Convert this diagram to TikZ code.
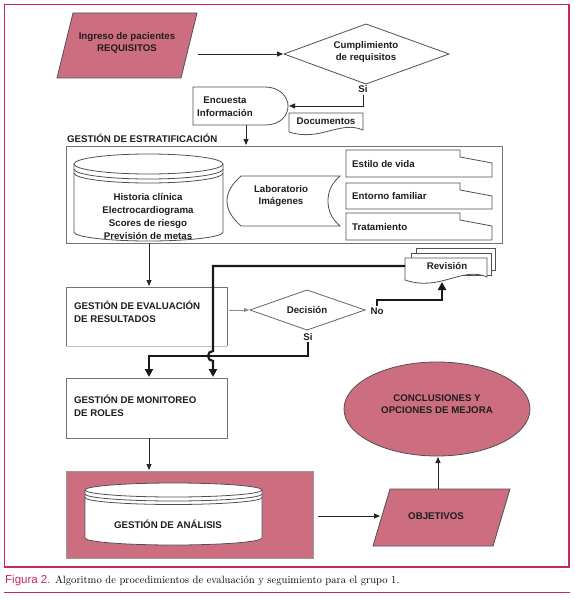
\documentclass[tikz,border=0pt]{standalone}
\usepackage{fontspec}
\newfontfamily\arial{Liberation Sans}
\usetikzlibrary{arrows.meta}
\definecolor{pinkf}{RGB}{205,110,128}
\definecolor{framec}{RGB}{200,40,85}
\definecolor{txt}{RGB}{30,30,30}
\definecolor{shp}{RGB}{80,80,80}
\tikzset{
  lbl/.style={font=\arial\bfseries\fontsize{9.7}{12.5}\selectfont, text=txt, inner sep=0pt, align=center},
  lbll/.style={lbl, align=left, anchor=west},
  outl/.style={draw=shp, line width=0.8pt},
  boxl/.style={draw=black!55, line width=0.8pt},
  arr/.style={draw=black!85, line width=0.9pt, -{Triangle[length=6pt,width=5pt]}},
  garr/.style={draw=black!45, line width=0.8pt, -{Triangle[length=5pt,width=4pt]}},
  tarr/.style={draw=black!90, line width=2.2pt, -{Triangle[length=8pt,width=8pt]}},
}
\begin{document}
\begin{tikzpicture}[x=1pt,y=-1pt]
\useasboundingbox (0,0) rectangle (574,599);
\fill[white] (0,0) rectangle (574,599);
% frame and caption
\draw[framec, line width=1.4pt] (4.5,4.5) rectangle (569,567);
\draw[framec, line width=1pt] (4,592.5) -- (570,592.5);
\node[anchor=base west, inner sep=0pt] (cap) at (5,583) {{\arial\fontsize{11.5}{13}\selectfont\color{framec}Figura 2.} {\fontsize{10.6}{12}\selectfont Algoritmo de procedimientos de evaluación y seguimiento para el grupo 1.}};

% Ingreso de pacientes (parallelogram)
\draw[outl, fill=pinkf] (73,13) -- (197,13) -- (181,78) -- (57,78) -- cycle;
\node[lbl] (p1) at (127,43) {Ingreso de pacientes\\REQUISITOS};
\coordinate (p1e) at (198,54);

% Cumplimiento diamond
\draw[outl] (284,54) -- (366,24) -- (449,54) -- (366,84) -- cycle;
\node[lbl] (d1) at (366,52) {Cumplimiento\\de requisitos};
\coordinate (d1w) at (283,54);
\node[lbl] (si1) at (363,89) {Si};

% Encuesta (delay shape)
\draw[outl] (193,87) -- (265,87) .. controls (280,87) and (288,97) .. (288,106) .. controls (288,116) and (280,125) .. (265,125) -- (193,125) -- cycle;
\node[lbl] (enc) at (225,106.5) {Encuesta\\Información};
\coordinate (ence) at (289,106);
\coordinate (encs) at (246,125);

% Documentos
\draw[outl, fill=white] (289,113) -- (363,113) -- (363,130) .. controls (340,120) and (320,142) .. (289,132) -- cycle;
\node[lbl] (doc) at (326,121) {Documentos};

% connectors top
\draw[arr] (p1e) -- (d1w);
\draw[arr] (si1.south) ++(0,2) -- (363,106) -- (ence);

% Gestion de estratificacion
\node[lbl, anchor=west] (estl) at (67,138) {GESTIÓN DE ESTRATIFICACIÓN};
\draw[boxl] (66,146) rectangle (502,243);
\coordinate (b1n) at (246,145);
\coordinate (b1s) at (149,243);
\draw[arr] (encs) -- (b1n);

% cylinder 1
\draw[outl, fill=white] (74,164) -- (74,232) arc[start angle=180, end angle=0, x radius=74.5, y radius=9] -- (223,164) arc[start angle=0, end angle=-180, x radius=74.5, y radius=10] -- cycle;
\draw[outl] (74,164) arc[start angle=180, end angle=0, x radius=74.5, y radius=10];
\draw[outl] (74,169) arc[start angle=180, end angle=0, x radius=74.5, y radius=10];
\draw[outl] (74,173) arc[start angle=180, end angle=0, x radius=74.5, y radius=10];
\node[lbl, align=center] (cyl1) at (148,216.5) {Historia clínica\\[0.3pt]Electrocardiograma\\[0.3pt]Scores de riesgo\\[0.3pt]Previsión de metas};

% Laboratorio (stored data)
\draw[outl] (241,176) -- (340,176) .. controls (331,184) and (328,192) .. (328,201) .. controls (328,210) and (331,218) .. (340,226) -- (241,226) .. controls (232,218) and (227,210) .. (227,201) .. controls (227,192) and (232,184) .. (241,176) -- cycle;
\node[lbl] (lab) at (281,196) {Laboratorio\\Imágenes};

% cards
\foreach \t/\b/\n in {150/177/c1, 183/209/c2, 213/240/c3}{
  \draw[outl] (460,\t) -- (346,\t) -- (346,\b) -- (492,\b) -- (492,\t+13) -- (460,\t+7) -- cycle;
}
\node[lbll] (est) at (352,164) {Estilo de vida};
\node[lbll] (ent) at (352,196) {Entorno familiar};
\node[lbll] (tra) at (352,227) {Tratamiento};

% Evaluacion box
\draw[boxl] (227,346) -- (227,287) -- (66,287) -- (66,346);
\draw[draw=black!25, line width=0.6pt] (66,346) -- (227,346);
\node[lbll] (b2) at (74,311.5) {GESTIÓN DE EVALUACIÓN\\DE RESULTADOS};
\coordinate (b2n) at (149,286);
\coordinate (b2e) at (229,310);
\draw[arr] (b1s) -- (b2n);

% Decision diamond
\draw[outl, draw=black!60] (250,310) -- (307,290) -- (365,310) -- (307,330) -- cycle;
\node[lbl] (dec) at (307,310) {Decisión};
\coordinate (d2w) at (249,310);
\draw[garr] (b2e) -- (d2w);
\node[lbl] (no) at (377,311) {No};
\node[lbl] (si2) at (308,337) {Si};

% Revision multi-document
\draw[outl, fill=white] (416,248) -- (495,248) -- (495,270) -- (416,270) -- cycle;
\draw[outl, fill=white] (411,253) -- (491,253) -- (491,275) -- (411,275) -- cycle;
\draw[outl, fill=white] (405,258) -- (487,258) -- (487,277) .. controls (462,266) and (440,292) .. (405,280) -- cycle;
\node[lbl] (rev) at (447,266) {Revisión};
\coordinate (revw) at (405,266);
\coordinate (revs) at (442,282);

% No -> Revision
\draw[tarr] (no.north) ++(0,-1) -- (377,300) -- (442,300) -- (revs);

% Monitoreo box
\draw[boxl] (66,378) rectangle (227,438);
\node[lbll] (b3) at (74,405.5) {GESTIÓN DE MONITOREO\\DE ROLES};
\coordinate (b3n1) at (149,377);
\coordinate (b3n2) at (213,377);
\coordinate (b3s) at (149,438);

% Revision -> Monitoreo (with bridge) and Si -> Monitoreo
\draw[tarr] (revw) -- (213,266) -- (213,351) arc[start angle=270, end angle=90, radius=5] -- (b3n2);
\draw[tarr] (si2.south) ++(0,1) -- (308,356) -- (149,356) -- (b3n1);

% Analisis
\draw[draw=black!40, line width=0.6pt, fill=pinkf] (66,471) rectangle (313,558);
\coordinate (rn) at (149,470);
\coordinate (re) at (318,516);
\draw[arr] (b3s) -- (rn);
\draw[outl, fill=white] (85,490) -- (85,538) arc[start angle=180, end angle=0, x radius=88.5, y radius=7] -- (262,490) arc[start angle=0, end angle=-180, x radius=88.5, y radius=7] -- cycle;
\draw[outl] (85,490) arc[start angle=180, end angle=0, x radius=88.5, y radius=7];
\draw[outl] (85,494) arc[start angle=180, end angle=0, x radius=88.5, y radius=7];
\draw[outl] (85,497.5) arc[start angle=180, end angle=0, x radius=88.5, y radius=7];
\node[lbl] (an) at (168,524) {GESTIÓN DE ANÁLISIS};

% Objetivos
\draw[outl, fill=pinkf] (390,489) -- (510,489) -- (493,546) -- (373,546) -- cycle;
\node[lbl] (obj) at (436,516) {OBJETIVOS};
\coordinate (objw) at (380,516);
\coordinate (objn) at (438,489);
\draw[arr] (re) -- (objw);

% Conclusiones
\draw[outl, fill=pinkf] (437,409) ellipse [x radius=93, y radius=47];
\node[lbl] (con) at (437,404) {CONCLUSIONES Y\\OPCIONES DE MEJORA};
\coordinate (cons) at (438,457);
\draw[arr] (objn) -- (cons);
\end{tikzpicture}
\end{document}
